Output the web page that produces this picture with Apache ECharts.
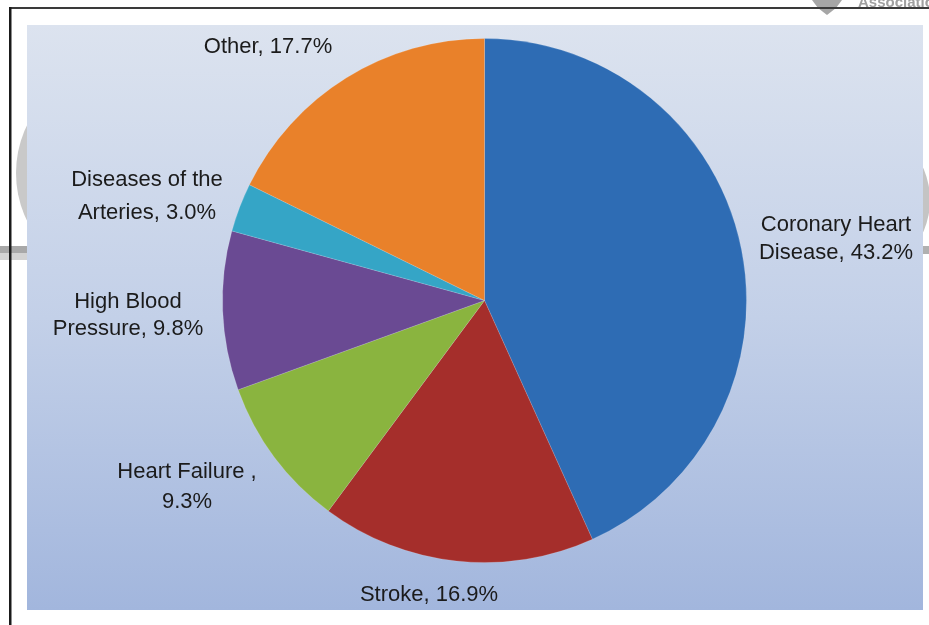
<!DOCTYPE html>
<html>
<head>
<meta charset="utf-8">
<title>Deaths by cardiovascular disease type</title>
<script src="https://cdn.jsdelivr.net/npm/echarts@6/dist/echarts.min.js"></script>
<style>
  html, body { margin: 0; padding: 0; background: #ffffff; }
  #chart { width: 929px; height: 625px; }
</style>
</head>
<body>
<div id="chart"></div>
<script>
// Share of cardiovascular deaths by cause (percent)
const categories = [
  'Coronary Heart Disease',
  'Stroke',
  'Heart Failure',
  'High Blood Pressure',
  'Diseases of the Arteries',
  'Other'
];
const values = [43.2, 16.9, 9.3, 9.8, 3.0, 17.7];

// Label wording per slice; {v} is replaced by the slice value
const labelTemplates = [
  'Coronary Heart\nDisease, {v}%',
  'Stroke, {v}%',
  'Heart Failure ,\n{v}%',
  'High Blood\nPressure, {v}%',
  'Diseases of the\nArteries, {v}%',
  'Other, {v}%'
];

const sliceColors = ['#2e6cb4', '#a52e2b', '#8ab43f', '#6a4a93', '#35a5c6', '#e9812a'];

// Where each label block sits (centre point) and its line spacing
const labelSpots = [
  { x: 836, y: 239, lh: 28 },
  { x: 429, y: 595, lh: 26 },
  { x: 187, y: 487, lh: 30 },
  { x: 128, y: 315, lh: 27 },
  { x: 147, y: 196, lh: 33 },
  { x: 268, y: 47,  lh: 26 }
];

const chart = echarts.init(document.getElementById('chart'), null, { renderer: 'canvas' });

const pieData = categories.map((name, i) => ({
  name: name,
  value: values[i],
  itemStyle: { color: sliceColors[i] },
  label: { lineHeight: labelSpots[i].lh }
}));

chart.setOption({
  backgroundColor: '#ffffff',
  animation: false,
  graphic: [
    // faint logo shapes peeking out behind the panel
    { type: 'circle', z: 0, shape: { cx: 126, cy: 173, r: 110 }, style: { fill: '#c9c9c9' } },
    { type: 'circle', z: 0, shape: { cx: 850, cy: 200, r: 80 }, style: { fill: '#c4c4c4' } },
    { type: 'rect', z: 0, shape: { x: 0, y: 246, width: 40, height: 7 }, style: { fill: '#a8a8a8' } },
    { type: 'rect', z: 0, shape: { x: 0, y: 253, width: 40, height: 7 }, style: { fill: '#d2d2d2' } },
    { type: 'rect', z: 0, shape: { x: 900, y: 246, width: 29, height: 8 }, style: { fill: '#b0b0b0' } },
    { type: 'polygon', z: 0, shape: { points: [[812, 0], [842, 0], [836, 8], [827, 15], [818, 8]] }, style: { fill: '#a6a6a6' } },
    { type: 'text', z: 0, style: { x: 858, y: -5, text: 'Association', fill: '#a0a0a0', font: 'bold 15px "Liberation Sans", Arial, sans-serif' } },
    // frame lines
    { type: 'rect', z: 1, shape: { x: 9, y: 7, width: 920, height: 2 }, style: { fill: '#3a3a3a' } },
    { type: 'rect', z: 1, shape: { x: 9, y: 7, width: 2.5, height: 618 }, style: { fill: '#1a1a1a' } },
    // plot panel with its vertical blue gradient
    {
      type: 'rect', z: 2,
      shape: { x: 27, y: 25, width: 896, height: 585 },
      style: {
        fill: new echarts.graphic.LinearGradient(0, 0, 0, 1, [
          { offset: 0, color: '#dce3ef' },
          { offset: 0.5, color: '#c3d0e8' },
          { offset: 1, color: '#a2b6dd' }
        ])
      }
    }
  ],
  series: [{
    type: 'pie',
    z: 5,
    center: [484.5, 300.5],
    radius: 262,
    startAngle: 90,
    clockwise: true,
    avoidLabelOverlap: false,
    itemStyle: { borderColor: 'rgba(255,255,255,0.25)', borderWidth: 0.6 },
    emphasis: { disabled: true },
    data: pieData,
    label: {
      show: true,
      position: 'outside',
      color: '#1b1b1b',
      fontFamily: '"Liberation Sans", Arial, sans-serif',
      fontSize: 22,
      align: 'center',
      formatter: p => labelTemplates[p.dataIndex].replace('{v}', p.value.toFixed(1))
    },
    labelLine: { show: false },
    labelLayout: params => {
      const s = labelSpots[params.dataIndex];
      return { x: s.x, y: s.y, align: 'center', verticalAlign: 'middle' };
    }
  }]
});
</script>
</body>
</html>
